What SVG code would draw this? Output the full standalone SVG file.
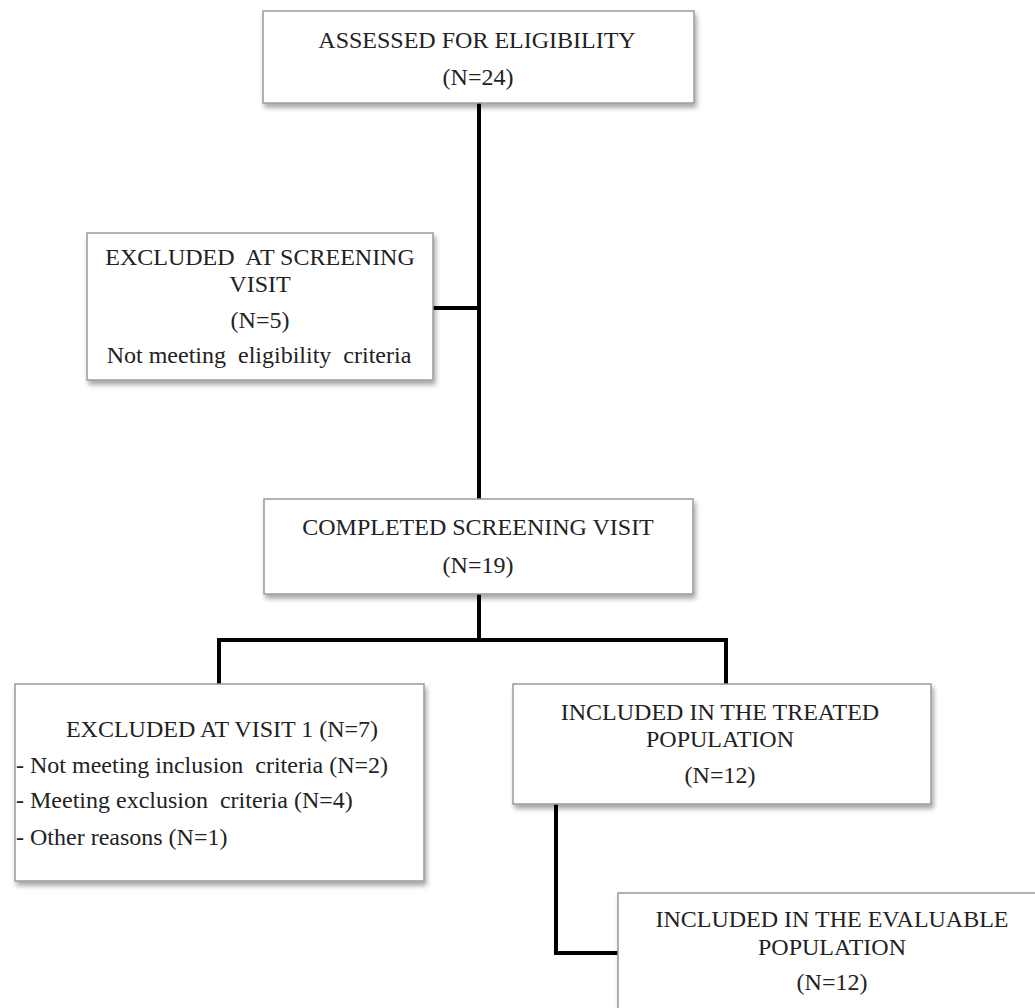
<svg xmlns="http://www.w3.org/2000/svg" width="1035" height="1008" viewBox="0 0 1035 1008">
<defs>
<filter id="sh" x="-5%" y="-5%" width="115%" height="125%">
<feDropShadow dx="2" dy="4" stdDeviation="2.5" flood-color="#000" flood-opacity="0.35"/>
</filter>
<style>
.box{fill:#fff;stroke:#9a9a9a;stroke-width:1.5;filter:url(#sh)}
.t{font-family:"Liberation Serif","Times New Roman",serif;font-size:24px;fill:#222;text-anchor:middle;white-space:pre}
.l{text-anchor:start}
.c{fill:none;stroke:#000;stroke-width:4;stroke-linecap:square;stroke-linejoin:miter}
</style>
</defs>
<rect width="1035" height="1008" fill="#fff"/>
<g id="connectors">
<path class="c" d="M479,103 V499"/>
<path class="c" d="M433,308 H479"/>
<path class="c" d="M479,594 V640"/>
<path class="c" d="M219,684 V640 H726 V684"/>
<path class="c" d="M556,804 V953 H618"/>
</g>
<g id="assessed">
<rect class="box" x="263" y="11" width="431" height="92"/>
<text class="t" x="477" y="48">ASSESSED FOR ELIGIBILITY</text>
<text class="t" x="478" y="85">(N=24)</text>
</g>
<g id="excluded-screening">
<rect class="box" x="87" y="233" width="346" height="147"/>
<text class="t" x="260" y="265">EXCLUDED  AT SCREENING</text>
<text class="t" x="260" y="292">VISIT</text>
<text class="t" x="260" y="328">(N=5)</text>
<text class="t" x="259" y="363">Not meeting  eligibility  criteria</text>
</g>
<g id="completed">
<rect class="box" x="264" y="499" width="429" height="95"/>
<text class="t" x="478" y="535">COMPLETED SCREENING VISIT</text>
<text class="t" x="478" y="573">(N=19)</text>
</g>
<g id="excluded-visit1">
<rect class="box" x="15" y="684" width="409" height="197"/>
<text class="t" x="222" y="737">EXCLUDED AT VISIT 1 (N=7)</text>
<text class="t l" x="16" y="773">- Not meeting inclusion  criteria (N=2)</text>
<text class="t l" x="16" y="808">- Meeting exclusion  criteria (N=4)</text>
<text class="t l" x="16" y="845">- Other reasons (N=1)</text>
</g>
<g id="treated">
<rect class="box" x="513" y="684" width="418" height="120"/>
<text class="t" x="720" y="720">INCLUDED IN THE TREATED</text>
<text class="t" x="720" y="747">POPULATION</text>
<text class="t" x="720" y="783">(N=12)</text>
</g>
<g id="evaluable">
<rect class="box" x="618" y="893" width="440" height="140"/>
<text class="t" x="832" y="927">INCLUDED IN THE EVALUABLE</text>
<text class="t" x="832" y="955">POPULATION</text>
<text class="t" x="832" y="990">(N=12)</text>
</g>
</svg>
